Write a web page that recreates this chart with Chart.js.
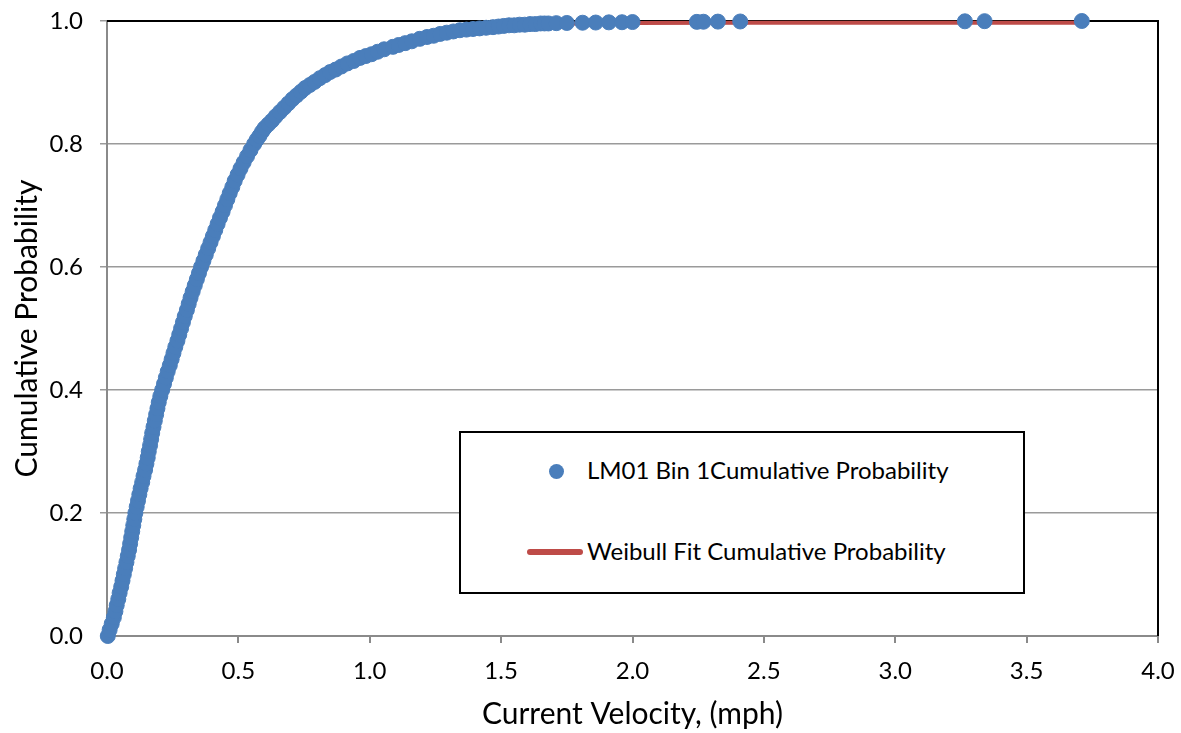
<!DOCTYPE html>
<html>
<head>
<meta charset="utf-8">
<title>LM01 Bin 1 - Cumulative Probability</title>
<script src="https://cdn.jsdelivr.net/npm/chart.js@4.4.1/dist/chart.umd.min.js"></script>
<style>
  html, body { margin: 0; padding: 0; background: #fff; }
  #quadro { position: relative; width: 1181px; height: 733px; font-family: Lato, "Open Sans", sans-serif; }
  #grafico { position: absolute; left: 0; top: 0; }
  #legenda {
    position: absolute; left: 459px; top: 431px; width: 566px; height: 163px;
    border: 2px solid #000; box-sizing: border-box; background: #fff;
  }
  #legenda .item { position: absolute; font-size: 24px; line-height: 28px; color: #000; white-space: nowrap; }
  #legenda .ponto { position: absolute; width: 15px; height: 15px; border-radius: 50%; background: #4A7EBB; }
  #legenda .traco { position: absolute; height: 6px; border-radius: 3px; background: #BE4B48; }
</style>
</head>
<body>
<div id="quadro">
  <canvas id="grafico" width="1181" height="733"></canvas>
  <div id="legenda">
    <div class="ponto" style="left:88px; top:31px;"></div>
    <div class="item" id="rotulo1" style="left:126px; top:23px;"></div>
    <div class="traco" style="left:66px; top:116px; width:56px;"></div>
    <div class="item" id="rotulo2" style="left:126px; top:104px;"></div>
  </div>
</div>
<script>
// Nomes das séries e títulos dos eixos
var nomeObservado = "LM01 Bin 1Cumulative Probability";
var nomeWeibull = "Weibull Fit Cumulative Probability";
var tituloX = "Current Velocity, (mph)";
var tituloY = "Cumulative Probability";

// Rótulos dos eixos
var rotulosX = ["0.0", "0.5", "1.0", "1.5", "2.0", "2.5", "3.0", "3.5", "4.0"];
var rotulosY = ["0.0", "0.2", "0.4", "0.6", "0.8", "1.0"];

// Velocidades observadas (mph)
var velocidade = [
  0.003, 0.010, 0.018, 0.026, 0.032, 0.037, 0.043, 0.048, 0.054, 0.059,
  0.064, 0.069, 0.074, 0.079, 0.084, 0.088, 0.092, 0.096, 0.100, 0.104,
  0.108, 0.113, 0.118, 0.123, 0.128, 0.134, 0.139, 0.145, 0.150, 0.155,
  0.159, 0.164, 0.168, 0.172, 0.177, 0.182, 0.187, 0.192, 0.197, 0.203,
  0.210, 0.217, 0.224, 0.231, 0.239, 0.246, 0.253, 0.260, 0.268, 0.275,
  0.282, 0.289, 0.296, 0.304, 0.311, 0.318, 0.326, 0.334, 0.342, 0.350,
  0.358, 0.367, 0.376, 0.385, 0.394, 0.403, 0.412, 0.421, 0.430, 0.440,
  0.449, 0.458, 0.467, 0.477, 0.486, 0.497, 0.508, 0.520, 0.533, 0.546,
  0.560, 0.570, 0.580, 0.590, 0.600, 0.614, 0.628, 0.642, 0.658, 0.674,
  0.690, 0.706, 0.722, 0.738, 0.754, 0.772, 0.790, 0.810, 0.830, 0.849,
  0.870, 0.892, 0.915, 0.939, 0.963, 0.985, 1.007, 1.030, 1.055, 1.088,
  1.110, 1.135, 1.160, 1.190, 1.218, 1.243, 1.268, 1.293, 1.318, 1.343,
  1.368, 1.393, 1.418, 1.443, 1.469, 1.490, 1.510, 1.530, 1.550, 1.570,
  1.590, 1.610, 1.630, 1.650, 1.665, 1.680,
  1.71, 1.75, 1.81, 1.86, 1.91, 1.96, 2.00,
  2.245, 2.27, 2.325, 2.41,
  3.265, 3.34, 3.71
];

// Probabilidade acumulada observada
var probabilidade = [
  0.00, 0.01, 0.02, 0.03, 0.04, 0.05, 0.06, 0.07, 0.08, 0.09,
  0.10, 0.11, 0.12, 0.13, 0.14, 0.15, 0.16, 0.17, 0.18, 0.19,
  0.20, 0.21, 0.22, 0.23, 0.24, 0.25, 0.26, 0.27, 0.28, 0.29,
  0.30, 0.31, 0.32, 0.33, 0.34, 0.35, 0.36, 0.37, 0.38, 0.39,
  0.40, 0.41, 0.42, 0.43, 0.44, 0.45, 0.46, 0.47, 0.48, 0.49,
  0.50, 0.51, 0.52, 0.53, 0.54, 0.55, 0.56, 0.57, 0.58, 0.59,
  0.60, 0.61, 0.62, 0.63, 0.64, 0.65, 0.66, 0.67, 0.68, 0.69,
  0.70, 0.71, 0.72, 0.73, 0.74, 0.75, 0.76, 0.77, 0.78, 0.79,
  0.800, 0.807, 0.813, 0.820, 0.826, 0.832, 0.838, 0.845, 0.852, 0.859,
  0.866, 0.873, 0.879, 0.885, 0.891, 0.896, 0.901, 0.907, 0.912, 0.917,
  0.921, 0.926, 0.931, 0.935, 0.940, 0.943, 0.946, 0.950, 0.954, 0.958,
  0.961, 0.964, 0.967, 0.971, 0.974, 0.976, 0.979, 0.981, 0.983, 0.985,
  0.986, 0.987, 0.988, 0.989, 0.990, 0.991, 0.992, 0.993, 0.993, 0.994,
  0.994, 0.995, 0.995, 0.996, 0.996, 0.996,
  0.9965, 0.9968, 0.9972, 0.9975, 0.9978, 0.9980, 0.9983,
  0.9986, 0.9988, 0.9990, 0.9992,
  0.9995, 0.9997, 1.0000
];

// Curva ajustada de Weibull
var weibullX = [
  0.000, 0.037, 0.064, 0.088, 0.108, 0.134, 0.159, 0.182, 0.210, 0.246,
  0.282, 0.318, 0.358, 0.403, 0.449, 0.497, 0.560, 0.674, 0.849, 1.088,
  1.343, 1.620, 2.000, 2.410, 3.265, 3.710
];
var weibullY = [
  0.000, 0.050, 0.100, 0.150, 0.200, 0.250, 0.300, 0.350, 0.400, 0.450,
  0.500, 0.550, 0.600, 0.650, 0.700, 0.750, 0.800, 0.859, 0.917, 0.958,
  0.985, 0.995, 0.9968, 0.9970, 0.9971, 0.9971
];

// Junta x e y em pontos para o Chart.js
function montarPontos(xs, ys) {
  var pontos = [];
  for (var i = 0; i < xs.length; i++) {
    pontos.push({ x: xs[i], y: ys[i] });
  }
  return pontos;
}

document.getElementById("rotulo1").textContent = nomeObservado;
document.getElementById("rotulo2").textContent = nomeWeibull;

// Bordas superior e direita da área do gráfico (pretas)
var molduraPlugin = {
  id: "moldura",
  beforeDatasetsDraw: function (chart) {
    var a = chart.chartArea;
    var ctx = chart.ctx;
    ctx.save();
    ctx.strokeStyle = "#000";
    ctx.lineWidth = 2;
    ctx.beginPath();
    ctx.moveTo(a.left, a.top);
    ctx.lineTo(a.right, a.top);
    ctx.lineTo(a.right, a.bottom);
    ctx.stroke();
    ctx.restore();
  },
};

var fonteEixo = { family: "Lato", size: 24 };
var fonteTitulo = { family: "Lato", size: 30 };

var ctx = document.getElementById("grafico").getContext("2d");
var grafico = new Chart(ctx, {
  type: "scatter",
  data: {
    datasets: [
      {
        label: nomeObservado,
        data: montarPontos(velocidade, probabilidade),
        backgroundColor: "#4A7EBB",
        borderColor: "#4A7EBB",
        borderWidth: 1,
        pointRadius: 7.5,
        clip: false,
      },
      {
        label: nomeWeibull,
        data: montarPontos(weibullX, weibullY),
        showLine: true,
        borderColor: "#BE4B48",
        borderWidth: 4,
        pointRadius: 0,
        fill: false,
        clip: false,
      },
    ],
  },
  options: {
    responsive: false,
    animation: false,
    devicePixelRatio: 1,
    layout: { autoPadding: false, padding: { left: 0, top: 21, right: 23, bottom: 0 } },
    plugins: {
      legend: { display: false },
      tooltip: { enabled: false },
    },
    scales: {
      x: {
        type: "linear",
        min: 0,
        max: 4,
        afterBuildTicks: function (escala) {
          escala.ticks = rotulosX.map(function (r) { return { value: parseFloat(r) }; });
        },
        afterFit: function (escala) {
          // altura fixa do eixo, sem folga extra nas pontas
          escala.height = 97;
          escala.paddingLeft = 0;
          escala.paddingRight = 0;
        },
        grid: {
          drawOnChartArea: false,
          drawTicks: true,
          tickLength: 7,
          color: "#8a8a8a",
          lineWidth: 2,
        },
        border: { color: "#8a8a8a", width: 2 },
        ticks: {
          color: "#000",
          font: fonteEixo,
          padding: 14,
          maxRotation: 0,
          callback: function (v, i) { return rotulosX[i]; },
        },
        title: {
          display: true,
          text: tituloX,
          color: "#000",
          font: fonteTitulo,
          padding: { top: 0, bottom: 1 },
        },
      },
      y: {
        type: "linear",
        min: 0,
        max: 1,
        afterBuildTicks: function (escala) {
          escala.ticks = rotulosY.map(function (r) { return { value: parseFloat(r) }; });
        },
        afterFit: function (escala) {
          escala.width = 107;
          escala.paddingTop = 0;
          escala.paddingBottom = 0;
        },
        grid: {
          drawOnChartArea: true,
          drawTicks: true,
          tickLength: 7,
          color: "#9a9a9a",
          lineWidth: 1.5,
        },
        border: { color: "#8a8a8a", width: 2 },
        ticks: {
          color: "#000",
          font: fonteEixo,
          padding: 17,
          callback: function (v, i) { return rotulosY[i]; },
        },
        title: {
          display: true,
          text: tituloY,
          color: "#000",
          font: fonteTitulo,
          padding: { top: 9, bottom: 0 },
        },
      },
    },
  },
  plugins: [molduraPlugin],
});
</script>
</body>
</html>
